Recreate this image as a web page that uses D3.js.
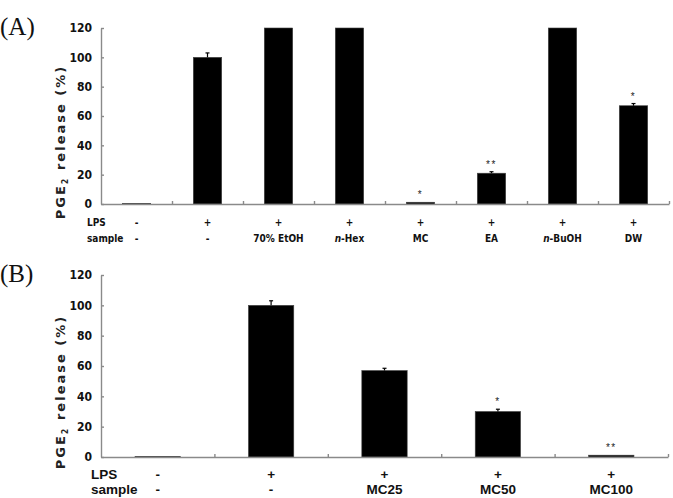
<!DOCTYPE html>
<html>
<head>
<meta charset="utf-8">
<script src="https://cdn.jsdelivr.net/npm/d3@7"></script>
<style>
  body { margin: 0; background: #fff; }
  .narrow { font-family: "DejaVu Sans Condensed", "Liberation Sans Narrow", sans-serif; font-stretch: condensed; font-weight: bold; }
</style>
</head>
<body>
<script>
var width = 673,
    height = 498;

// y axis ticks shared by both panels
var yTicks = [0, 20, 40, 60, 80, 100, 120];

// panel (A): LPS + solvent fractions (bars that hit 120 are off scale)
var lpsA = ["-", "+", "+", "+", "+", "+", "+", "+"];
var sampleA = ["-", "-", "70% EtOH", "n-Hex", "MC", "EA", "n-BuOH", "DW"];
var valuesA = [0.3, 100, 120, 120, 1.2, 21, 120, 67];
var errorsA = [0, 3, 0, 0, 0, 1, 0, 1.5];
var starsA = ["", "", "", "", "*", "**", "", "*"];

// panel (B): LPS + MC doses
var lpsB = ["-", "+", "+", "+", "+"];
var sampleB = ["-", "-", "MC25", "MC50", "MC100"];
var valuesB = [0.3, 100, 57, 30, 1.2];
var errorsB = [0, 3, 1.5, 1.5, 0];
var starsB = ["", "", "", "*", "**"];

var svg = d3.select("body").append("svg")
    .attr("width", width)
    .attr("height", height)

svg.append("rect").attr("width", width).attr("height", height).attr("fill", "#fff")

function panel(p) {
    var n = p.values.length;
    var g = svg.append("g");

    var x = d3.scaleBand()
        .domain(d3.range(n))
        .range([p.left, p.right])
        .paddingInner(0)
    var xb = d3.scaleLinear().domain([0, n]).range([p.left, p.right])
    var y = d3.scaleLinear().domain([0, 120]).range([p.bottom, p.top])

    /* bars */
    var bw = x.bandwidth() * 0.4;
    g.selectAll("rect.bar")
        .data(p.values)
        .enter().append("rect")
        .attr("class", "bar")
        .attr("x", function (d, i) { return x(i) + (x.bandwidth() - bw) / 2 })
        .attr("y", function (d) { return y(d) })
        .attr("width", bw)
        .attr("height", function (d) { return y(0) - y(d) })
        .attr("fill", "#000")
        .attr("stroke", "#444")
        .attr("stroke-width", 0.6)

    /* error bars */
    p.values.forEach(function (d, i) {
        var e = p.errors[i];
        if (!e) return;
        var cx = x(i) + x.bandwidth() / 2;
        g.append("line")
            .attr("x1", cx).attr("x2", cx)
            .attr("y1", y(d)).attr("y2", y(d + e))
            .attr("stroke", "#000").attr("stroke-width", 1.2)
        g.append("line")
            .attr("x1", cx - 2).attr("x2", cx + 2)
            .attr("y1", y(d + e)).attr("y2", y(d + e))
            .attr("stroke", "#000").attr("stroke-width", 1.2)
    })

    /* significance stars */
    g.selectAll("text.star")
        .data(p.stars)
        .enter().append("text")
        .attr("x", function (d, i) { return x(i) + x.bandwidth() / 2 })
        .attr("y", function (d, i) { return y(p.values[i] + p.errors[i]) - 4 })
        .attr("text-anchor", "middle")
        .attr("font-family", "Liberation Sans, sans-serif")
        .attr("font-size", 10)
        .attr("letter-spacing", 1.5)
        .attr("fill", "#222")
        .text(function (d) { return d })

    /* axes */
    var yAxis = g.append("g")
        .attr("transform", "translate(" + p.left + ",0)")
        .call(d3.axisLeft(y).tickValues(yTicks).tickSizeInner(-3).tickSizeOuter(0).tickPadding(9))
    yAxis.selectAll("text")
        .attr("class", "narrow")
        .attr("font-size", 12)
        .attr("fill", "#111")
    yAxis.selectAll("line, path").attr("stroke", "#8a8a8a").attr("stroke-width", 1.4)

    var xAxis = g.append("g")
        .attr("transform", "translate(0," + p.bottom + ")")
        .call(d3.axisBottom(xb).tickValues(d3.range(1, n + 1)).tickSize(-3).tickSizeOuter(0).tickFormat(""))
    xAxis.selectAll("line, path").attr("stroke", "#8a8a8a").attr("stroke-width", 1.4)

    /* y title, sits a little below the middle of the axis as in the figure */
    var title = g.append("text")
        .attr("transform", "translate(" + p.titleX + "," + ((p.top + p.bottom) / 2 + 26) + ") rotate(-90)")
        .attr("text-anchor", "middle")
        .attr("dy", "0.35em")
        .attr("font-family", "DejaVu Sans, sans-serif")
        .attr("font-weight", "bold")
        .attr("font-size", 13)
        .attr("letter-spacing", 2)
        .attr("fill", "#222")
    title.append("tspan").text("PGE")
    title.append("tspan").attr("font-size", 8).attr("dy", 3).text("2")
    title.append("tspan").attr("dy", -3).text(" release (%)")

    /* condition rows */
    function row(labels, name, yy) {
        g.append("text")
            .attr("class", p.rowClass)
            .attr("x", p.rowX).attr("y", yy)
            .attr("font-size", p.rowSize)
            .attr("font-family", p.rowFont)
            .attr("font-weight", "bold")
            .attr("fill", "#111")
            .text(name)
        var t = g.selectAll(null)
            .data(labels)
            .enter().append("text")
            .attr("class", p.rowClass)
            .attr("x", function (d, i) { return x(i) + x.bandwidth() / 2 })
            .attr("y", yy)
            .attr("text-anchor", "middle")
            .attr("font-size", p.rowSize)
            .attr("font-family", p.rowFont)
            .attr("font-weight", "bold")
            .attr("fill", "#111")
        t.each(function (d) {
            var el = d3.select(this);
            if (d.indexOf("n-") === 0) {
                el.append("tspan").attr("font-style", "italic").text("n");
                el.append("tspan").text(d.slice(1));
            } else {
                el.text(d);
            }
        })
    }
    row(p.lps, "LPS", p.lpsY)
    row(p.sample, "sample", p.sampleY)

    svg.append("text")
        .attr("x", 0).attr("y", p.labelY)
        .attr("font-family", "Liberation Serif, serif")
        .attr("font-size", 25)
        .attr("fill", "#111")
        .text(p.label)
}

panel({
    label: "(A)", labelY: 35,
    values: valuesA, errors: errorsA, stars: starsA, lps: lpsA, sample: sampleA,
    left: 101, right: 669, top: 28, bottom: 204, titleX: 60,
    rowX: 87, lpsY: 226, sampleY: 242, rowSize: 10, rowClass: "narrow", rowFont: null
})

panel({
    label: "(B)", labelY: 282,
    values: valuesB, errors: errorsB, stars: starsB, lps: lpsB, sample: sampleB,
    left: 101, right: 668, top: 275, bottom: 457, titleX: 60,
    rowX: 91, lpsY: 479, sampleY: 494, rowSize: 13.5, rowClass: "", rowFont: "Liberation Sans, Arial, sans-serif"
})
</script>
</body>
</html>
